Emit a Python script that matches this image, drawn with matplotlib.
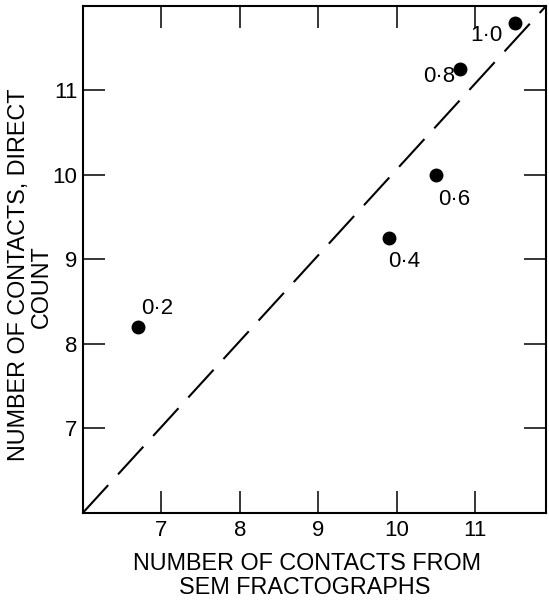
import matplotlib.pyplot as plt

plt.rcParams['font.family'] = ['Liberation Sans', 'DejaVu Sans']

# data
sem_counts = [6.7, 9.9, 10.5, 10.8, 11.5]
direct_counts = [8.2, 9.25, 10.0, 11.25, 11.8]
point_labels = ['0\u00b72', '0\u00b74', '0\u00b76', '0\u00b78', '1\u00b70']
label_offsets = [(14, 13), (11, -17), (13, -18), (-15, -5), (-20, -9)]

xticks = [7, 8, 9, 10, 11]
yticks = [7, 8, 9, 10, 11]

xlabel_lines = ['NUMBER OF CONTACTS FROM', 'SEM FRACTOGRAPHS']
ylabel_lines = ['NUMBER OF CONTACTS, DIRECT', 'COUNT']

fig = plt.figure(figsize=(5.49, 6.04), dpi=100)
ax = fig.add_axes([0.151, 0.151, 0.8435, 0.839])

# 1:1 reference line, corner to corner
ax.plot([0, 1], [0, 1], transform=ax.transAxes, color='black', lw=1.5,
        dashes=(18, 7))

ax.plot(sem_counts, direct_counts, 'o', color='black', markersize=9)
for x, y, lab, off in zip(sem_counts, direct_counts, point_labels, label_offsets):
    ax.annotate(lab, (x, y), xytext=off, textcoords='offset points',
                ha='center', va='center', fontsize=16)

ax.set_xlim(6, 11.9)
ax.set_ylim(6, 12)
ax.set_xticks(xticks)
ax.set_yticks(yticks)
ax.tick_params(direction='in', length=16, width=1.1, labelsize=16,
               top=True, right=True)
ax.tick_params(axis='x', pad=5)
ax.tick_params(axis='y', pad=4)
for s in ax.spines.values():
    s.set_linewidth(1.5)

lab_font = dict(family=['Liberation Sans'], fontsize=16.8)
fig.text(307 / 549, 1 - 564 / 604, xlabel_lines[0], ha='center', va='center', **lab_font)
fig.text(305 / 549, 1 - 587 / 604, xlabel_lines[1], ha='center', va='center', **lab_font)
fig.text(19 / 549, 1 - 275 / 604, ylabel_lines[0], ha='center', va='center',
         rotation=90, **lab_font)
fig.text(41 / 549, 1 - 287 / 604, ylabel_lines[1], ha='center', va='center',
         rotation=90, **lab_font)

fig.savefig('out.png', dpi=100)
